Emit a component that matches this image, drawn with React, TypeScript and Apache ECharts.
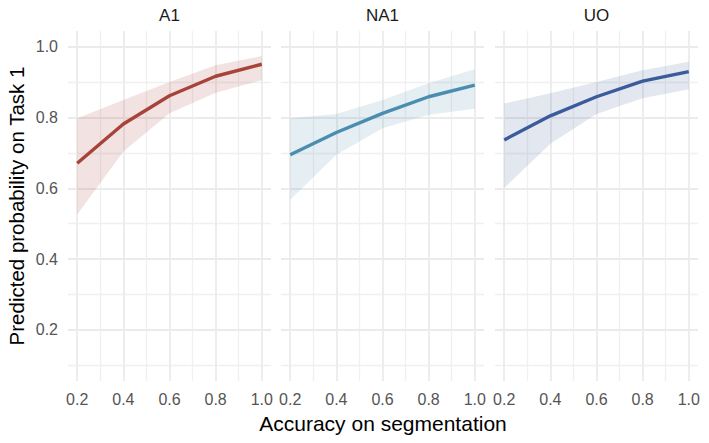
import React, { useEffect, useRef } from "react";
import * as echarts from "echarts";

const panels = ["A1", "NA1", "UO"];
const xValues = [0.2, 0.4, 0.6, 0.8, 1.0];
const tickValues = [0.2, 0.4, 0.6, 0.8, 1.0];
const majorGrid = [0.2, 0.4, 0.6, 0.8, 1.0];
const minorGrid = [0.1, 0.3, 0.5, 0.7, 0.9];
const xMinorGrid = [0.3, 0.5, 0.7, 0.9];

const a1Fit = [0.671, 0.782, 0.862, 0.917, 0.951];
const a1Lower = [0.526, 0.704, 0.812, 0.87, 0.906];
const a1Upper = [0.798, 0.85, 0.901, 0.948, 0.974];

const na1Fit = [0.695, 0.758, 0.812, 0.859, 0.892];
const na1Lower = [0.568, 0.695, 0.77, 0.808, 0.825];
const na1Upper = [0.798, 0.81, 0.85, 0.897, 0.937];

const uoFit = [0.737, 0.805, 0.859, 0.903, 0.93];
const uoLower = [0.601, 0.726, 0.81, 0.855, 0.88];
const uoUpper = [0.84, 0.869, 0.901, 0.934, 0.958];

const fits = [a1Fit, na1Fit, uoFit];
const lowers = [a1Lower, na1Lower, uoLower];
const uppers = [a1Upper, na1Upper, uoUpper];
const lineColors = ["#A8433C", "#4A8DAE", "#3B5C9B"];

const FONT = '"Liberation Sans", Arial, sans-serif';

export default function App() {
  const ref = useRef<HTMLDivElement>(null);
  useEffect(() => {
    if (!ref.current) return;
    const chart = echarts.init(ref.current, null, { renderer: "svg" });
    const lefts = [68, 281, 495];
    const width = 203;
    const top = 31;
    const height = 350;

    const grids = lefts.map((l) => ({ left: l, top, width, height, containLabel: false }));
    const xAxes = lefts.map((_, i) => ({
      type: "value",
      gridIndex: i,
      min: 0.16,
      max: 1.04,
      axisLine: { show: false },
      axisTick: { show: false },
      splitLine: { show: false },
      axisLabel: {
        customValues: tickValues,
        formatter: (v: number) => v.toFixed(1),
        color: "#555555",
        fontSize: 16,
        fontFamily: FONT,
        margin: 10,
      },
    }));
    const yAxes = lefts.map((_, i) => ({
      type: "value",
      gridIndex: i,
      min: 0.055,
      max: 1.045,
      axisLine: { show: false },
      axisTick: { show: false },
      splitLine: { show: false },
      axisLabel: {
        show: i === 0,
        customValues: tickValues,
        formatter: (v: number) => v.toFixed(1),
        color: "#555555",
        fontSize: 16,
        fontFamily: FONT,
        margin: 10,
      },
    }));

    const series: any[] = [];
    panels.forEach((p, i) => {
      const minorStyle = { color: "#F0F0F0", width: 1.3, type: "solid" };
      const majorStyle = { color: "#EBEBEB", width: 1.8, type: "solid" };
      const gridLines = [
        ...minorGrid.map((v) => ({ yAxis: v, lineStyle: minorStyle })),
        ...xMinorGrid.map((v) => ({ xAxis: v, lineStyle: minorStyle })),
        ...majorGrid.map((v) => ({ yAxis: v, lineStyle: majorStyle })),
        ...tickValues.map((v) => ({ xAxis: v, lineStyle: majorStyle })),
      ];
      const lo = lowers[i];
      const up = uppers[i];
      series.push({
        type: "custom",
        name: p + " band",
        xAxisIndex: i,
        yAxisIndex: i,
        data: xValues.map((x, k) => [x, lo[k], up[k]]),
        silent: true,
        z: 2,
        renderItem: (params: any, api: any) => {
          if (params.dataIndex !== 0) return null;
          const upperPts = xValues.map((x, k) => api.coord([x, up[k]]));
          const lowerPts = xValues.map((x, k) => api.coord([x, lo[k]])).reverse();
          return {
            type: "polygon",
            shape: { points: upperPts.concat(lowerPts) },
            style: { fill: lineColors[i], opacity: 0.15 },
            silent: true,
          };
        },
      });
      series.push({
        type: "line",
        name: p,
        xAxisIndex: i,
        yAxisIndex: i,
        data: xValues.map((x, k) => [x, fits[i][k]]),
        symbol: "none",
        lineStyle: { color: lineColors[i], width: 3.4 },
        silent: true,
        z: 3,
        markLine: {
          silent: true,
          symbol: "none",
          label: { show: false },
          z: 0,
          data: gridLines,
        },
      });
    });

    const graphics: any[] = panels.map((p, i) => ({
      type: "text",
      x: lefts[i] + width / 2,
      y: 15,
      style: {
        text: p,
        fill: "#1A1A1A",
        font: `17px ${FONT}`,
        textAlign: "center",
        textVerticalAlign: "middle",
      },
    }));
    graphics.push({
      type: "text",
      x: 383,
      y: 423,
      style: {
        text: "Accuracy on segmentation",
        fill: "#000000",
        font: `21px ${FONT}`,
        textAlign: "center",
        textVerticalAlign: "middle",
      },
    });
    graphics.push({
      type: "text",
      x: 16,
      y: 206,
      rotation: Math.PI / 2,
      style: {
        text: "Predicted probability on Task 1",
        fill: "#000000",
        font: `20.5px ${FONT}`,
        textAlign: "center",
        textVerticalAlign: "middle",
      },
    });

    chart.setOption({
      animation: false,
      backgroundColor: "#FFFFFF",
      grid: grids,
      xAxis: xAxes,
      yAxis: yAxes,
      series,
      graphic: graphics,
    });
    return () => chart.dispose();
  }, []);
  return (
    <div
      ref={ref}
      style={{ position: "absolute", left: 0, top: 0, width: 709, height: 443 }}
    />
  );
}
